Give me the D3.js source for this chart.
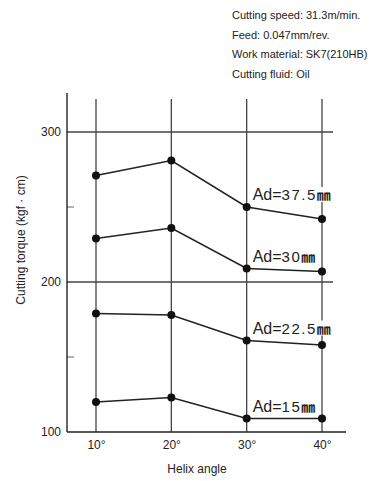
<!DOCTYPE html>
<html>
<head>
<meta charset="utf-8">
<script src="https://cdn.jsdelivr.net/npm/d3@7"></script>
<style>
  body { margin: 0; background: #fff; }
  svg { display: block; font-family: "Liberation Sans", Arial, sans-serif; }
</style>
</head>
<body>
<div id="chart"></div>
<script>
const angles = [10, 20, 30, 40];
const angleLabels = ["10°", "20°", "30°", "40°"];
const torqueTicks = [100, 200, 300];
const minorTicks = [150, 250];
const seriesNames = ["37.5", "30", "22.5", "15"];
const ad375 = [271, 281, 250, 242];
const ad30 = [229, 236, 209, 207];
const ad225 = [179, 178, 161, 158];
const ad15 = [120, 123, 109, 109];
const conditions = [
    "Cutting speed: 31.3m/min.",
    "Feed: 0.047mm/rev.",
    "Work material: SK7(210HB)",
    "Cutting fluid: Oil"
];

const series = [ad375, ad30, ad225, ad15].map((vals, i) => ({
    name: seriesNames[i],
    values: vals.map((v, j) => ({ a: angles[j], v: v }))
}));

const W = 374, H = 481;
const svg = d3.select("#chart").append("svg")
    .attr("width", W)
    .attr("height", H);

const x = d3.scaleLinear().domain([10, 40]).range([96, 322]);
const y = d3.scaleLinear().domain([100, 300]).range([432, 132]);
const ink = "#222";

// conditions text
svg.append("g").selectAll("text")
    .data(conditions)
    .join("text")
    .attr("x", 232)
    .attr("y", (d, i) => 19 + i * 19.5)
    .attr("font-size", "11px")
    .attr("fill", ink)
    .text(d => d);

// horizontal grid
svg.append("g").selectAll("line")
    .data([200, 300])
    .join("line")
    .attr("x1", 67).attr("x2", 333)
    .attr("y1", d => y(d)).attr("y2", d => y(d))
    .attr("stroke", "#444").attr("stroke-width", 1.3);

// vertical grid
svg.append("g").selectAll("line")
    .data(angles)
    .join("line")
    .attr("x1", d => x(d)).attr("x2", d => x(d))
    .attr("y1", 99).attr("y2", y(100))
    .attr("stroke", "#444").attr("stroke-width", 1.3);

// minor ticks
svg.append("g").selectAll("line")
    .data(minorTicks)
    .join("line")
    .attr("x1", 67).attr("x2", 74)
    .attr("y1", d => y(d)).attr("y2", d => y(d))
    .attr("stroke", "#666").attr("stroke-width", 1);

// y axis
const yAxis = svg.append("g")
    .attr("transform", "translate(67,0)")
    .call(d3.axisLeft(y).tickValues(torqueTicks).tickSize(0).tickPadding(6));
yAxis.select(".domain").remove();
yAxis.selectAll("text")
    .attr("font-family", "'Liberation Sans Narrow', 'Liberation Sans', sans-serif")
    .attr("font-size", "12px")
    .attr("fill", ink);
svg.append("line")
    .attr("x1", 67).attr("x2", 67)
    .attr("y1", 93).attr("y2", y(100))
    .attr("stroke", ink).attr("stroke-width", 1.4);

// x axis
const xAxis = svg.append("g")
    .attr("transform", `translate(0,${y(100)})`)
    .call(d3.axisBottom(x).tickValues(angles).tickFormat((d, i) => angleLabels[i]).tickSize(0).tickPadding(8));
xAxis.select(".domain").remove();
xAxis.selectAll("text")
    .attr("font-family", "'Liberation Sans Narrow', 'Liberation Sans', sans-serif")
    .attr("font-size", "12px")
    .attr("fill", ink);
svg.append("line")
    .attr("x1", 67).attr("x2", 346)
    .attr("y1", y(100)).attr("y2", y(100))
    .attr("stroke", ink).attr("stroke-width", 1.4);

// axis titles
svg.append("text")
    .attr("x", 197).attr("y", 473)
    .attr("text-anchor", "middle")
    .attr("font-size", "12px")
    .attr("fill", ink)
    .text("Helix angle");

svg.append("text")
    .attr("transform", "translate(25,240) rotate(-90)")
    .attr("text-anchor", "middle")
    .attr("font-family", "'Liberation Sans Narrow', 'Liberation Sans', sans-serif")
    .attr("font-size", "12px")
    .attr("fill", ink)
    .text("Cutting torque (kgf · cm)");

// series lines
const line = d3.line().x(d => x(d.a)).y(d => y(d.v));
svg.append("g").selectAll("path")
    .data(series)
    .join("path")
    .attr("d", d => line(d.values))
    .attr("fill", "none")
    .attr("stroke", ink)
    .attr("stroke-width", 1.6);

// labels with white background
series.forEach(s => {
    const p30 = s.values[2];
    const lg = svg.append("g");
    const t = lg.append("text")
        .attr("x", x(30) + 6)
        .attr("y", y(p30.v) - 7)
        .attr("fill", ink)
        .attr("font-size", "16px");
    t.append("tspan").text("Ad=");
    t.append("tspan")
        .attr("font-family", "'Liberation Sans Narrow', 'Liberation Sans', sans-serif")
        .attr("font-size", "15px")
        .attr("letter-spacing", "1.5px")
        .text(s.name);
    t.append("tspan")
        .attr("font-family", "'Noto Sans CJK JP', sans-serif")
        .attr("font-size", "14px")
        .attr("font-weight", "bold")
        .text("㎜");
    const b = t.node().getBBox();
    lg.insert("rect", "text")
        .attr("x", b.x).attr("y", b.y + 3)
        .attr("width", b.width + 1).attr("height", b.height - 5)
        .attr("fill", "#fff");
});

// points
svg.append("g").selectAll("circle")
    .data(series.flatMap(s => s.values))
    .join("circle")
    .attr("cx", d => x(d.a))
    .attr("cy", d => y(d.v))
    .attr("r", 4)
    .attr("fill", "#111");
</script>
</body>
</html>
